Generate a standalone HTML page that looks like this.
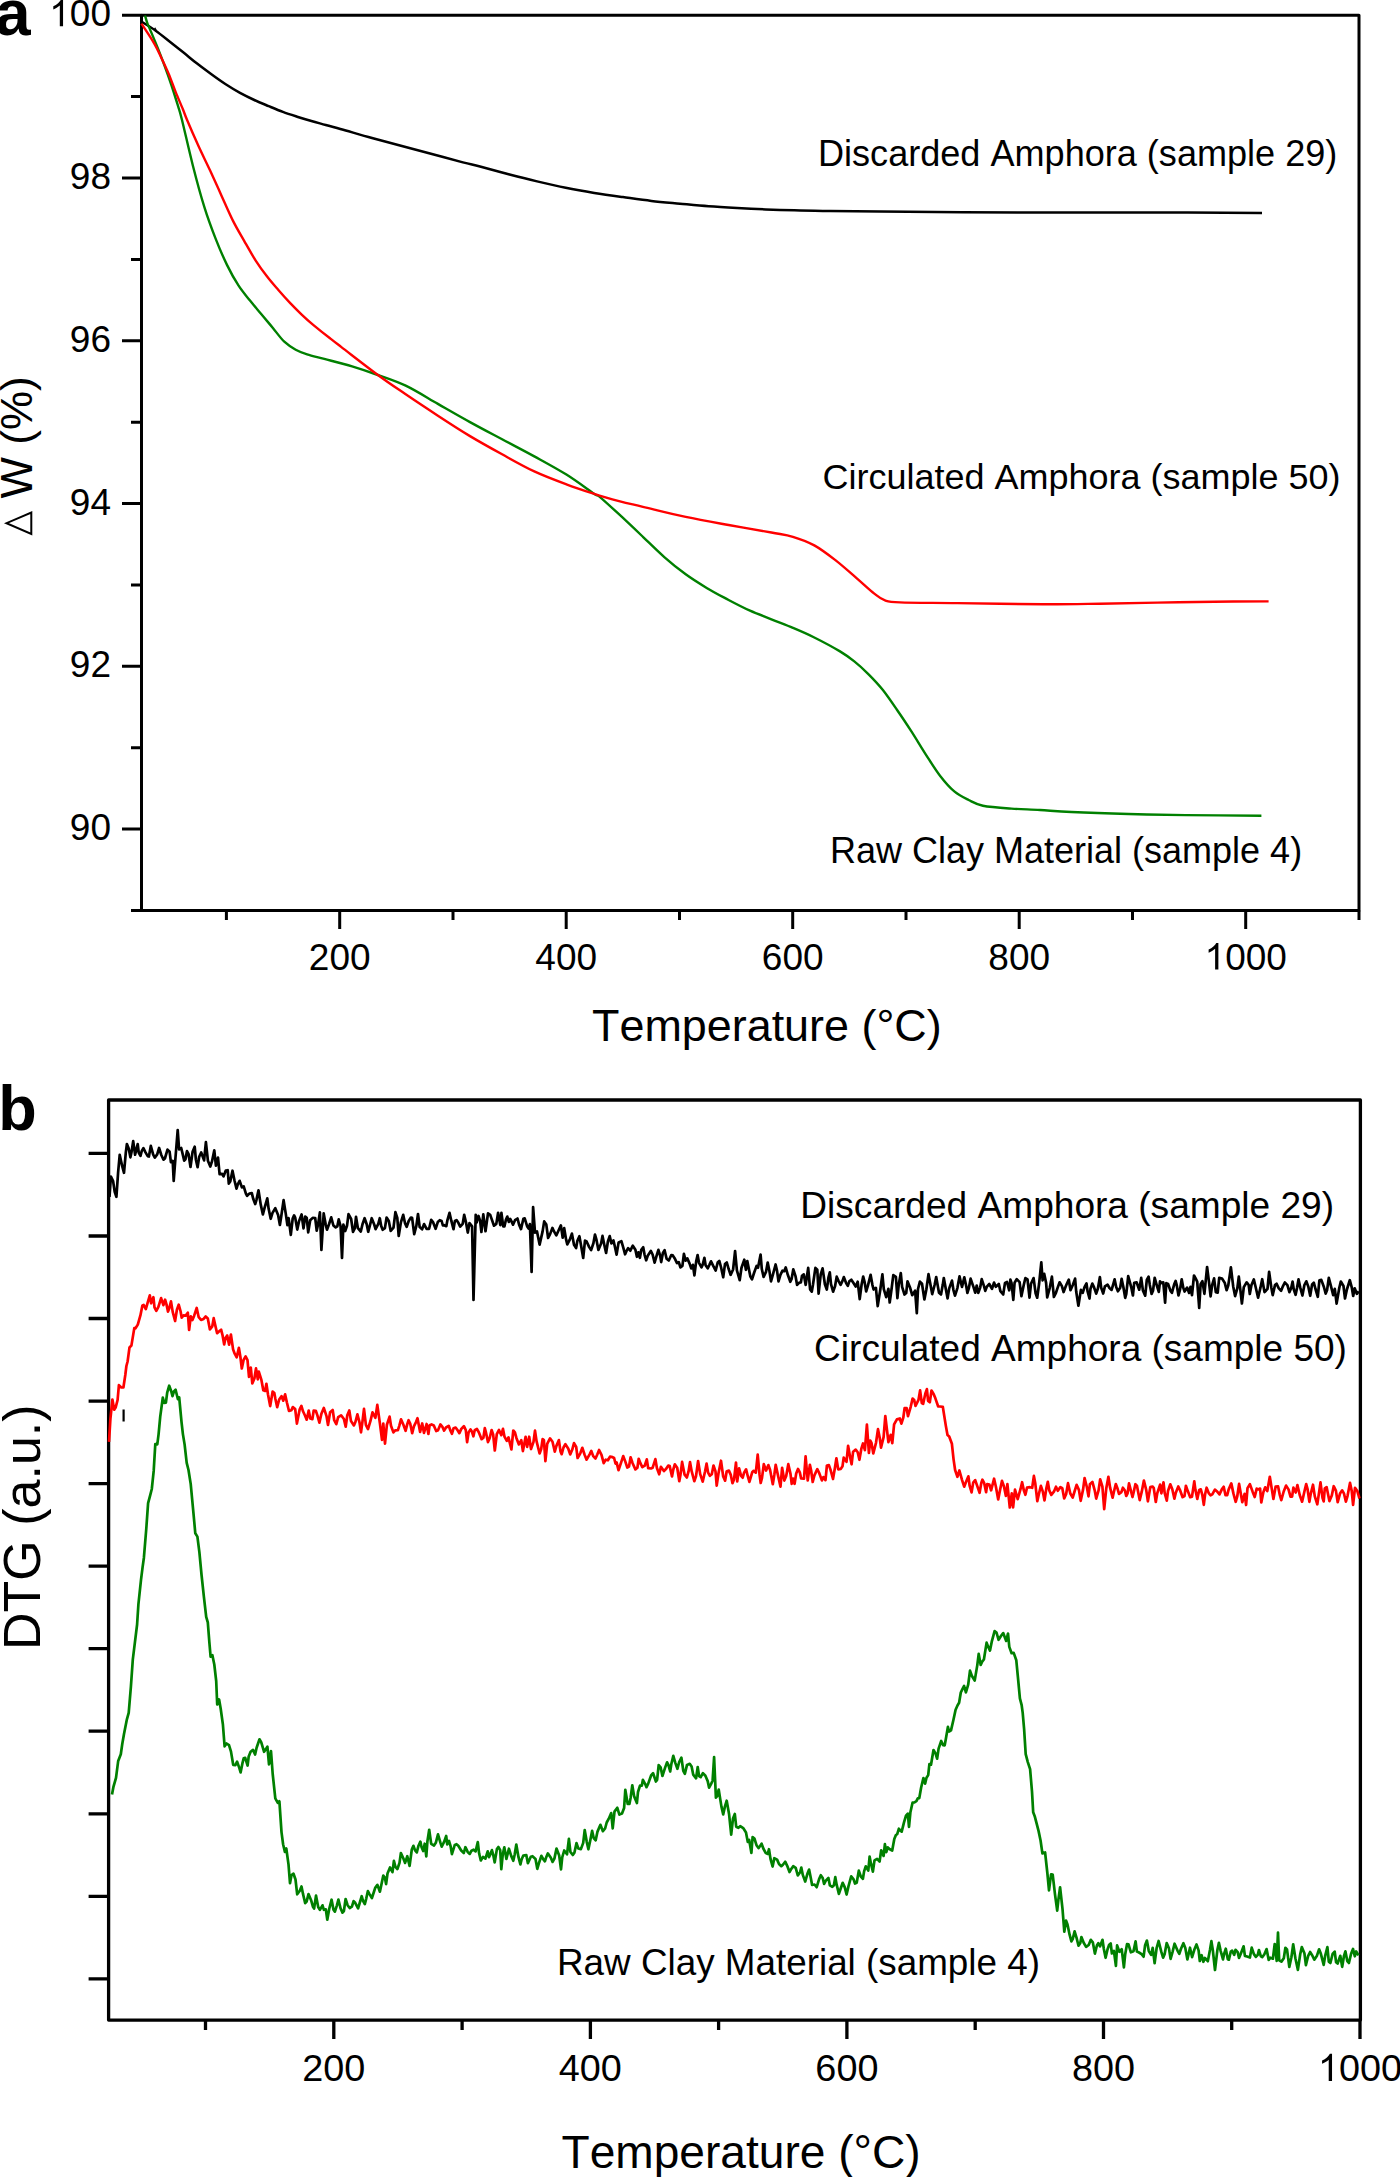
<!DOCTYPE html>
<html><head><meta charset="utf-8"><style>
html,body{margin:0;padding:0;background:#fff;width:1400px;height:2177px;overflow:hidden}
svg{display:block;position:absolute;left:0;top:0}
text{font-family:"Liberation Sans", sans-serif;fill:#000;font-kerning:none}
</style></head><body>
<svg width="1400" height="2177" viewBox="0 0 1400 2177">
<rect x="141.5" y="15.2" width="1217.5" height="895.3" fill="none" stroke="#000" stroke-width="3" stroke-linejoin="round"/>
<path d="M131.0,910.5H141.5M122.0,829.1H141.5M131.0,747.7H141.5M122.0,666.3H141.5M131.0,584.9H141.5M122.0,503.5H141.5M131.0,422.2H141.5M122.0,340.8H141.5M131.0,259.4H141.5M122.0,178.0H141.5M131.0,96.6H141.5M122.0,15.2H141.5M226.4,910.5V920.0M339.7,910.5V929.0M453.0,910.5V920.0M566.2,910.5V929.0M679.5,910.5V920.0M792.7,910.5V929.0M906.0,910.5V920.0M1019.2,910.5V929.0M1132.5,910.5V920.0M1245.7,910.5V929.0M1359.0,910.5V920.0" stroke="#000" stroke-width="3" fill="none"/>
<text x="69.84" y="840.11" font-size="37.00">90</text>
<text x="69.84" y="677.33" font-size="37.00">92</text>
<text x="69.84" y="514.55" font-size="37.00">94</text>
<text x="69.84" y="351.76" font-size="37.00">96</text>
<text x="69.84" y="188.98" font-size="37.00">98</text>
<path d="M763,0H583V1147Q518,1085,413,1023T223,930V1104Q374,1175,487,1276T647,1472H763Z" transform="translate(49.27,26.20) scale(0.01807,-0.01807)"/><text x="69.84" y="26.20" font-size="37.00">00</text>
<text x="308.83" y="969.50" font-size="37.00">200</text>
<text x="535.34" y="969.50" font-size="37.00">400</text>
<text x="761.85" y="969.50" font-size="37.00">600</text>
<text x="988.37" y="969.50" font-size="37.00">800</text>
<path d="M763,0H583V1147Q518,1085,413,1023T223,930V1104Q374,1175,487,1276T647,1472H763Z" transform="translate(1204.59,969.50) scale(0.01807,-0.01807)"/><text x="1225.17" y="969.50" font-size="37.00">000</text>
<text x="592" y="1041" font-size="44.9">Temperature (°C)</text>
<text transform="translate(32.3,498.5) rotate(-90)" font-size="44">W (%)</text>
<path d="M31.3,512.5 L31.3,534 L6.5,523.2 Z" fill="none" stroke="#000" stroke-width="2"/>
<text x="818" y="166" font-size="36.1">Discarded Amphora (sample 29)</text>
<text x="822.6" y="489.4" font-size="35.97">Circulated Amphora (sample 50)</text>
<text x="830" y="863.4" font-size="36.0">Raw Clay Material (sample 4)</text>
<text x="-5" y="35.4" font-size="64" font-weight="bold">a</text>
<path d="M142.1,22.1 C144.4,23.5 151.3,27.6 155.7,30.7 C160.1,33.8 164.1,37.1 168.6,40.7 C173.1,44.3 178.2,48.3 182.9,52.1 C187.7,55.9 192.3,59.9 197.1,63.6 C201.8,67.3 206.6,70.8 211.4,74.3 C216.2,77.8 220.9,81.2 225.7,84.3 C230.5,87.4 235.2,90.3 240.0,92.9 C244.8,95.5 249.5,97.8 254.3,100.0 C259.1,102.2 263.8,104.1 268.6,106.1 C273.4,108.1 278.1,110.1 282.9,111.9 C287.6,113.7 292.4,115.2 297.1,116.7 C301.9,118.2 306.6,119.6 311.4,121.0 C316.2,122.4 320.0,123.4 325.7,125.0 C331.4,126.6 338.0,128.3 345.7,130.5 C353.4,132.7 362.9,135.5 372.0,138.0 C381.1,140.5 390.3,142.9 400.0,145.5 C409.7,148.1 419.5,150.7 430.0,153.5 C440.5,156.3 454.6,160.2 462.9,162.4 C471.2,164.6 472.4,164.5 480.0,166.5 C487.6,168.5 499.1,171.8 508.6,174.3 C518.1,176.8 527.6,179.2 537.1,181.4 C546.6,183.6 556.2,185.8 565.7,187.7 C575.2,189.6 584.8,191.3 594.3,192.9 C603.8,194.5 613.4,195.8 622.9,197.1 C632.4,198.4 641.9,199.8 651.4,200.9 C660.9,202.0 670.5,202.8 680.0,203.7 C689.5,204.6 699.1,205.6 708.6,206.3 C718.1,207.0 727.6,207.5 737.1,208.0 C746.6,208.5 756.2,209.0 765.7,209.4 C775.2,209.8 784.8,210.1 794.3,210.3 C803.8,210.6 808.6,210.7 822.9,210.9 C837.2,211.1 846.3,211.3 880.0,211.6 C913.7,211.9 981.2,212.5 1025.0,212.6 C1068.8,212.7 1103.4,212.3 1142.9,212.4 C1182.4,212.5 1242.2,212.9 1262.0,213.0" stroke="#000" stroke-width="2.5" fill="none"/>
<path d="M153.3,29.8 L155.2,27.2 L157,30.6 Z" fill="#000"/>
<path d="M145.0,15.5 C145.4,16.8 146.6,21.2 147.4,23.5 C148.2,25.8 148.4,25.6 150.0,29.4 C151.6,33.2 154.7,40.5 157.1,46.4 C159.5,52.3 161.9,58.6 164.3,65.0 C166.7,71.4 169.0,77.8 171.4,85.0 C173.8,92.2 176.8,102.1 178.6,107.9 C180.4,113.7 179.6,110.4 182.0,120.0 C184.4,129.6 189.2,151.2 192.9,165.7 C196.6,180.2 200.5,194.7 204.3,206.9 C208.1,219.1 211.9,229.2 215.7,238.9 C219.5,248.6 223.3,257.3 227.1,265.1 C230.9,272.9 234.8,279.8 238.6,285.7 C242.4,291.6 246.2,295.8 250.0,300.6 C253.8,305.4 257.6,309.7 261.4,314.3 C265.2,318.9 269.1,323.4 272.9,328.0 C276.7,332.6 280.5,338.1 284.3,341.7 C288.1,345.3 291.9,347.6 295.7,349.7 C299.5,351.8 302.3,352.8 307.1,354.3 C311.9,355.8 316.8,356.9 324.3,358.9 C331.8,360.9 343.2,363.7 352.1,366.4 C361.0,369.1 369.0,371.8 377.9,375.0 C386.8,378.2 395.7,380.9 405.7,385.7 C415.7,390.5 427.2,397.8 437.9,403.9 C448.6,410.0 459.3,416.2 470.0,422.1 C480.7,428.0 491.4,433.6 502.1,439.3 C512.8,445.0 523.6,450.5 534.3,456.4 C545.0,462.3 556.4,468.4 566.4,474.6 C576.4,480.9 588.7,490.1 594.3,493.9 C599.9,497.6 595.5,493.4 600.0,497.1 C604.5,500.9 614.2,509.8 621.4,516.4 C628.5,523.0 635.8,530.0 642.9,536.8 C650.0,543.6 657.2,550.9 664.3,557.1 C671.4,563.4 678.6,569.1 685.7,574.3 C692.8,579.5 700.0,583.9 707.1,588.2 C714.2,592.5 721.5,596.2 728.6,600.0 C735.8,603.8 742.9,607.5 750.0,610.7 C757.1,613.9 764.2,616.4 771.4,619.3 C778.5,622.2 785.8,624.9 792.9,627.9 C800.0,630.9 806.4,633.6 814.3,637.5 C822.1,641.4 833.3,647.4 840.0,651.4 C846.7,655.4 849.5,657.6 854.3,661.4 C859.1,665.2 863.8,669.5 868.6,674.3 C873.4,679.1 878.1,684.0 882.9,690.0 C887.6,696.0 892.4,703.1 897.1,710.0 C901.9,716.9 906.6,724.0 911.4,731.4 C916.2,738.8 920.9,746.9 925.7,754.3 C930.5,761.7 935.2,769.5 940.0,775.7 C944.8,781.9 949.5,787.4 954.3,791.4 C959.1,795.4 963.8,797.6 968.6,800.0 C973.4,802.4 975.8,804.3 982.9,805.7 C990.0,807.1 1001.9,807.9 1011.4,808.6 C1020.9,809.3 1030.0,809.4 1040.0,810.0 C1050.0,810.6 1056.6,811.3 1071.4,812.0 C1086.2,812.7 1109.5,813.5 1128.6,814.0 C1147.6,814.5 1163.6,814.8 1185.7,815.1 C1207.8,815.4 1248.8,815.6 1261.4,815.7" stroke="#008000" stroke-width="2.4" fill="none"/>
<path d="M141.4,23.6 C143.6,26.9 151.0,37.9 154.3,43.6 C157.6,49.3 159.0,52.9 161.4,57.9 C163.8,62.9 166.2,67.9 168.6,73.6 C171.0,79.3 173.3,86.1 175.7,92.1 C178.1,98.0 181.0,104.6 182.9,109.3 C184.8,114.0 184.5,113.8 187.1,120.0 C189.7,126.2 194.8,137.9 198.6,146.3 C202.4,154.7 206.2,162.1 210.0,170.3 C213.8,178.5 217.6,187.0 221.4,195.4 C225.2,203.8 229.1,213.0 232.9,220.6 C236.7,228.2 240.5,234.4 244.3,241.1 C248.1,247.8 251.9,254.7 255.7,260.6 C259.5,266.5 263.3,271.7 267.1,276.6 C270.9,281.6 274.8,285.9 278.6,290.3 C282.4,294.7 286.2,298.9 290.0,302.9 C293.8,306.9 297.6,310.7 301.4,314.3 C305.2,317.9 308.1,320.6 312.9,324.6 C317.7,328.6 325.2,334.6 330.0,338.3 C334.8,342.1 333.4,341.0 341.4,347.1 C349.4,353.2 367.2,367.1 377.9,375.0 C388.6,382.9 395.7,387.5 405.7,394.3 C415.7,401.1 427.2,408.7 437.9,415.7 C448.6,422.7 459.3,429.7 470.0,436.1 C480.7,442.5 491.4,448.4 502.1,454.3 C512.8,460.2 523.6,466.4 534.3,471.4 C545.0,476.4 556.4,480.6 566.4,484.3 C576.4,488.1 585.4,491.0 594.3,493.9 C603.2,496.8 611.9,499.2 620.0,501.4 C628.1,503.5 631.9,504.2 642.9,506.8 C653.9,509.4 671.4,513.9 685.7,516.9 C700.0,519.9 714.3,522.4 728.6,525.0 C742.9,527.6 760.7,530.5 771.4,532.5 C782.1,534.5 785.8,534.6 792.9,536.8 C800.0,538.9 807.2,541.5 814.3,545.4 C821.4,549.3 828.6,554.9 835.7,560.4 C842.8,565.9 850.7,573.1 857.1,578.6 C863.5,584.1 869.6,590.0 874.3,593.6 C878.9,597.2 880.7,598.9 885.0,600.4 C889.3,601.9 888.0,601.9 900.0,602.4 C912.0,602.9 933.3,602.8 957.1,603.1 C980.9,603.4 1019.1,604.2 1042.9,604.3 C1066.7,604.4 1081.0,604.0 1100.0,603.7 C1119.0,603.4 1138.0,602.9 1157.1,602.6 C1176.1,602.3 1195.7,601.9 1214.3,601.7 C1232.9,601.5 1259.5,601.5 1268.6,601.4" stroke="#ff0000" stroke-width="2.4" fill="none"/>
<rect x="108.6" y="1100.0" width="1251.8" height="920.1" fill="none" stroke="#000" stroke-width="3.3" stroke-linejoin="round"/>
<path d="M88.6,1153.4H108.6M88.6,1236.0H108.6M88.6,1318.5H108.6M88.6,1401.1H108.6M88.6,1483.6H108.6M88.6,1566.2H108.6M88.6,1648.7H108.6M88.6,1731.2H108.6M88.6,1813.8H108.6M88.6,1896.3H108.6M88.6,1978.9H108.6M205.5,2020.1V2030.0M333.8,2020.1V2039.0M462.1,2020.1V2030.0M590.4,2020.1V2039.0M718.6,2020.1V2030.0M846.9,2020.1V2039.0M975.2,2020.1V2030.0M1103.5,2020.1V2039.0M1231.7,2020.1V2030.0M1360.0,2020.1V2039.0" stroke="#000" stroke-width="3.3" fill="none"/>
<text x="302.27" y="2081.00" font-size="37.80">200</text>
<text x="558.82" y="2081.00" font-size="37.80">400</text>
<text x="815.37" y="2081.00" font-size="37.80">600</text>
<text x="1071.92" y="2081.00" font-size="37.80">800</text>
<path d="M763,0H583V1147Q518,1085,413,1023T223,930V1104Q374,1175,487,1276T647,1472H763Z" transform="translate(1317.95,2081.00) scale(0.01846,-0.01846)"/><text x="1338.98" y="2081.00" font-size="37.80">000</text>
<text x="561.5" y="2167.5" font-size="46.1">Temperature (°C)</text>
<text transform="translate(40.3,1650) rotate(-90)" font-size="52">DTG (a.u.)</text>
<text x="800.3" y="1218" font-size="37.1">Discarded Amphora (sample 29)</text>
<text x="814.1" y="1360.5" font-size="37.03">Circulated Amphora (sample 50)</text>
<text x="557" y="1975" font-size="36.84">Raw Clay Material (sample 4)</text>
<text x="-1.8" y="1130.3" font-size="63" font-weight="bold">b</text>
<path d="M109.5,1196.9 L110.9,1176.5 L113.1,1181.1 L114.7,1191.7 L116.4,1196.8 L118.1,1172.7 L119.7,1154.8 L122.2,1166.2 L124.0,1172.8 L125.8,1152.7 L126.9,1144.0 L128.7,1148.6 L130.4,1157.3 L131.6,1151.6 L133.2,1141.1 L135.1,1154.7 L137.7,1144.0 L138.7,1152.5 L140.5,1155.8 L141.7,1151.2 L143.4,1148.2 L145.5,1152.4 L147.7,1156.1 L148.9,1156.5 L150.8,1145.9 L153.2,1154.7 L154.8,1157.6 L157.2,1154.4 L159.1,1148.0 L161.3,1155.0 L163.5,1159.7 L164.9,1158.5 L167.5,1149.6 L169.6,1151.7 L170.9,1162.2 L172.7,1160.9 L173.7,1181.0 L175.3,1160.0 L177.7,1130.0 L179.1,1149.4 L181.2,1148.0 L182.8,1154.6 L184.2,1160.7 L185.4,1159.4 L187.0,1151.1 L188.5,1153.8 L190.5,1167.0 L192.6,1151.8 L194.7,1146.7 L195.9,1159.7 L197.6,1167.2 L199.2,1156.8 L201.2,1152.5 L204.1,1160.4 L205.9,1142.1 L207.9,1160.7 L210.3,1166.5 L212.0,1161.4 L214.3,1150.3 L215.9,1165.6 L218.0,1157.6 L219.6,1174.2 L222.1,1173.9 L223.5,1176.4 L225.8,1170.6 L227.7,1170.2 L228.8,1183.6 L230.2,1181.6 L232.5,1170.7 L234.5,1180.5 L236.5,1188.6 L237.8,1184.4 L239.6,1180.8 L241.9,1187.4 L243.7,1186.3 L245.9,1193.6 L247.1,1195.9 L249.3,1193.6 L251.8,1193.2 L253.3,1199.1 L255.2,1204.1 L256.4,1200.1 L258.5,1190.3 L260.7,1204.4 L262.9,1214.5 L264.5,1208.2 L267.3,1198.3 L268.6,1208.6 L270.7,1218.8 L272.5,1212.9 L275.3,1208.2 L278.1,1214.9 L279.9,1225.0 L281.3,1216.0 L283.6,1200.1 L285.9,1214.6 L287.4,1225.1 L288.6,1218.1 L290.8,1234.9 L292.7,1218.5 L294.1,1215.4 L295.2,1217.7 L297.3,1229.6 L299.1,1220.9 L301.6,1214.5 L303.5,1228.4 L305.2,1216.5 L306.7,1217.7 L308.2,1232.4 L310.2,1220.3 L312.7,1217.9 L315.2,1218.0 L316.7,1230.7 L318.1,1224.1 L319.9,1212.4 L321.4,1250.0 L323.7,1213.4 L325.8,1225.1 L327.0,1229.7 L329.1,1224.0 L331.2,1217.3 L333.4,1225.5 L335.7,1227.4 L337.3,1226.4 L338.7,1219.4 L340.6,1226.2 L342.0,1258.0 L343.4,1224.5 L345.2,1231.0 L347.0,1225.8 L348.5,1214.1 L351.1,1218.8 L353.0,1231.8 L354.8,1228.4 L356.0,1216.8 L357.9,1228.2 L360.8,1231.5 L362.5,1224.2 L364.6,1218.2 L366.7,1224.3 L368.2,1231.8 L369.6,1226.7 L371.7,1218.2 L374.2,1224.5 L375.6,1229.2 L378.3,1223.9 L379.8,1218.2 L381.2,1225.9 L382.7,1229.8 L384.9,1228.1 L386.6,1217.5 L388.8,1220.9 L390.7,1230.9 L393.5,1227.6 L395.4,1212.1 L397.3,1218.0 L398.7,1236.0 L400.9,1222.3 L403.2,1214.8 L405.1,1223.5 L406.7,1226.8 L408.7,1221.0 L410.9,1217.6 L412.1,1217.9 L414.2,1234.1 L416.4,1225.6 L418.0,1214.0 L419.7,1227.1 L422.1,1229.3 L424.1,1224.1 L426.6,1228.9 L429.1,1228.8 L431.2,1219.9 L433.0,1222.1 L435.6,1228.8 L437.8,1222.1 L439.8,1220.2 L441.6,1221.0 L442.9,1225.5 L444.2,1225.2 L446.3,1226.2 L447.5,1219.8 L449.5,1212.9 L451.3,1220.7 L453.5,1229.2 L454.9,1220.9 L456.5,1220.1 L458.5,1223.1 L460.2,1226.6 L462.7,1223.8 L464.2,1214.8 L466.1,1222.9 L467.8,1232.6 L469.5,1223.1 L472.1,1226.4 L473.5,1300.0 L475.7,1214.8 L476.7,1222.4 L478.5,1216.0 L480.1,1220.6 L481.4,1232.0 L483.3,1214.4 L485.5,1231.2 L488.0,1213.4 L490.2,1214.9 L491.6,1218.9 L494.0,1225.7 L496.3,1223.9 L498.1,1212.8 L500.3,1225.1 L501.4,1212.8 L503.2,1226.3 L504.4,1226.5 L505.9,1219.9 L507.3,1216.6 L508.8,1221.9 L510.2,1218.9 L511.5,1221.4 L513.0,1224.7 L515.0,1220.2 L517.5,1218.5 L519.1,1224.6 L521.0,1229.1 L523.4,1218.8 L524.7,1218.4 L527.1,1226.2 L528.6,1228.6 L529.9,1224.1 L531.6,1272.0 L533.1,1207.0 L535.0,1232.6 L537.0,1231.5 L539.6,1244.6 L542.6,1231.4 L544.2,1221.4 L546.3,1224.6 L548.1,1238.0 L550.1,1234.1 L552.4,1227.9 L553.9,1231.2 L556.3,1235.4 L558.1,1231.5 L560.9,1225.4 L562.7,1237.7 L564.2,1228.2 L566.1,1239.6 L567.3,1244.4 L569.8,1239.6 L571.9,1233.6 L574.0,1244.8 L576.1,1248.0 L577.4,1240.8 L579.4,1236.2 L581.2,1246.3 L583.2,1258.0 L585.0,1240.6 L586.6,1241.5 L589.2,1247.1 L591.1,1250.1 L593.4,1243.2 L595.0,1234.6 L596.5,1239.9 L598.4,1250.0 L601.1,1243.5 L602.5,1235.9 L604.8,1247.3 L606.1,1253.0 L607.9,1241.5 L609.7,1236.1 L611.4,1243.4 L613.4,1240.4 L614.8,1246.2 L616.6,1254.6 L618.6,1242.4 L621.4,1241.2 L623.5,1248.3 L625.1,1254.3 L626.3,1251.4 L628.1,1248.2 L630.3,1250.7 L632.8,1245.7 L635.4,1249.8 L636.9,1256.8 L638.4,1252.3 L639.9,1257.8 L641.3,1249.7 L643.2,1247.2 L644.6,1254.8 L646.2,1260.3 L647.9,1255.4 L650.8,1250.9 L652.6,1254.5 L654.6,1262.6 L657.0,1254.3 L658.4,1249.8 L660.2,1255.8 L661.2,1262.1 L662.9,1253.0 L664.6,1250.2 L666.6,1258.7 L668.8,1260.5 L671.3,1255.0 L672.8,1255.4 L674.6,1258.2 L677.0,1263.1 L678.8,1262.1 L680.4,1267.4 L682.4,1265.9 L683.9,1253.9 L685.6,1260.6 L687.3,1258.4 L689.5,1263.4 L691.2,1268.4 L692.9,1264.8 L694.4,1275.3 L696.2,1261.3 L697.6,1255.0 L699.0,1262.8 L701.5,1267.3 L702.6,1265.0 L704.4,1257.8 L705.6,1265.3 L707.7,1268.3 L709.5,1264.6 L711.0,1261.3 L713.1,1265.6 L715.7,1270.5 L717.7,1262.5 L719.3,1260.9 L721.1,1267.5 L723.2,1277.3 L725.0,1264.1 L726.8,1262.5 L728.6,1268.8 L730.6,1274.8 L733.1,1269.5 L735.1,1251.0 L736.9,1270.4 L739.7,1280.2 L741.5,1267.8 L744.3,1259.7 L745.9,1269.9 L747.3,1261.0 L750.3,1276.3 L752.0,1279.4 L754.2,1272.5 L756.6,1265.9 L758.0,1267.7 L760.6,1254.5 L761.8,1269.0 L763.6,1276.9 L766.0,1271.9 L767.7,1262.6 L769.4,1270.9 L771.0,1281.4 L773.1,1273.8 L775.6,1264.5 L777.0,1270.6 L778.5,1281.3 L780.5,1274.7 L782.5,1270.7 L784.2,1271.2 L785.7,1267.4 L787.8,1274.8 L790.3,1281.8 L791.6,1278.9 L793.3,1269.3 L795.5,1276.1 L797.1,1284.9 L799.1,1282.8 L800.9,1282.4 L802.0,1275.8 L803.8,1274.4 L805.7,1284.9 L808.2,1267.9 L810.1,1289.4 L811.8,1291.6 L813.0,1284.5 L815.4,1267.9 L817.3,1269.8 L818.6,1293.7 L820.7,1274.5 L822.6,1268.4 L824.9,1284.2 L826.8,1289.6 L828.5,1277.3 L829.8,1272.3 L831.0,1284.2 L833.1,1291.7 L835.0,1286.4 L836.7,1276.7 L838.6,1281.1 L840.6,1284.8 L842.5,1280.9 L843.8,1277.1 L846.1,1283.1 L847.8,1285.9 L849.3,1281.3 L851.3,1279.7 L853.5,1283.1 L855.7,1286.6 L857.7,1281.7 L859.7,1299.1 L861.6,1284.5 L863.2,1276.5 L864.5,1281.6 L866.2,1291.4 L868.0,1285.4 L870.6,1274.8 L872.4,1284.8 L873.6,1289.5 L875.9,1287.9 L877.7,1306.1 L880.2,1290.2 L882.4,1274.4 L883.8,1289.2 L886.2,1297.1 L888.4,1288.9 L889.7,1302.5 L891.5,1289.5 L893.3,1275.2 L895.9,1276.9 L897.4,1298.2 L898.7,1284.9 L900.8,1273.1 L902.1,1286.9 L904.5,1294.5 L906.2,1293.0 L907.5,1281.3 L910.0,1287.4 L912.2,1295.2 L915.1,1290.7 L916.8,1313.1 L918.0,1289.0 L919.9,1281.6 L922.0,1283.8 L924.4,1299.5 L926.3,1289.8 L928.5,1274.2 L930.3,1283.7 L932.2,1294.1 L934.6,1285.0 L936.2,1277.0 L939.0,1292.8 L941.0,1294.5 L942.8,1284.6 L943.8,1278.0 L945.9,1289.5 L947.6,1298.4 L949.2,1288.4 L952.0,1280.6 L953.4,1289.8 L955.0,1295.7 L957.4,1288.1 L959.5,1276.4 L962.0,1287.0 L964.3,1277.4 L966.3,1286.5 L967.4,1292.9 L968.8,1288.4 L970.6,1278.7 L973.6,1287.4 L975.2,1292.7 L976.7,1285.5 L978.3,1292.9 L980.2,1287.6 L981.7,1279.2 L984.0,1286.2 L985.3,1290.9 L986.9,1286.6 L989.3,1284.0 L992.0,1288.8 L994.0,1282.6 L995.8,1286.8 L998.8,1284.0 L1000.4,1291.1 L1003.2,1294.5 L1005.0,1282.9 L1007.0,1282.0 L1009.2,1290.3 L1010.4,1279.6 L1011.5,1282.9 L1013.3,1299.8 L1014.6,1282.7 L1016.7,1279.1 L1019.6,1282.1 L1021.4,1296.1 L1023.8,1284.8 L1025.4,1278.0 L1027.5,1279.4 L1029.5,1297.6 L1031.0,1283.8 L1033.6,1278.1 L1035.6,1293.2 L1037.2,1297.7 L1039.1,1283.8 L1041.3,1262.3 L1042.6,1280.3 L1044.2,1273.8 L1046.1,1282.9 L1047.2,1297.3 L1049.7,1288.1 L1051.9,1276.7 L1053.9,1297.0 L1055.7,1293.5 L1057.6,1287.9 L1059.6,1282.3 L1061.8,1285.9 L1063.6,1292.0 L1065.6,1286.7 L1066.7,1284.0 L1068.8,1279.7 L1070.5,1290.2 L1072.8,1285.0 L1075.1,1278.6 L1076.2,1291.5 L1078.4,1305.7 L1080.9,1289.9 L1082.7,1292.9 L1084.6,1286.8 L1086.5,1283.5 L1087.6,1291.5 L1089.5,1298.5 L1090.5,1288.7 L1092.3,1283.6 L1094.0,1287.2 L1096.2,1293.6 L1097.9,1288.5 L1099.9,1277.1 L1101.2,1287.8 L1103.2,1293.5 L1104.9,1286.4 L1107.6,1284.7 L1109.5,1288.0 L1111.6,1289.9 L1113.5,1283.3 L1114.6,1279.3 L1116.2,1287.0 L1117.9,1291.3 L1120.2,1287.8 L1121.6,1278.9 L1123.4,1287.2 L1125.2,1297.9 L1126.3,1293.8 L1128.2,1276.1 L1131.2,1287.1 L1132.9,1295.5 L1134.2,1282.9 L1136.6,1282.3 L1139.2,1289.7 L1141.2,1277.9 L1142.9,1290.4 L1145.2,1295.7 L1146.8,1280.0 L1148.6,1276.6 L1149.8,1284.9 L1151.6,1293.9 L1153.0,1290.7 L1154.7,1277.8 L1157.0,1286.1 L1158.8,1291.9 L1160.0,1281.3 L1161.7,1283.2 L1163.3,1282.3 L1165.1,1302.6 L1166.3,1283.2 L1168.1,1284.0 L1170.5,1290.9 L1171.9,1292.8 L1174.2,1284.3 L1175.6,1280.9 L1176.8,1285.4 L1178.5,1295.4 L1180.0,1289.7 L1181.7,1279.3 L1183.3,1287.9 L1184.6,1291.5 L1187.1,1287.6 L1189.1,1292.9 L1190.5,1286.9 L1192.0,1295.2 L1194.0,1275.5 L1195.5,1278.1 L1197.2,1281.7 L1199.2,1307.8 L1200.6,1284.1 L1202.4,1281.1 L1204.4,1293.9 L1207.1,1267.0 L1209.0,1282.1 L1210.6,1296.4 L1212.2,1284.8 L1214.1,1278.4 L1215.8,1292.2 L1217.7,1292.7 L1219.2,1277.8 L1222.0,1278.6 L1224.7,1282.7 L1226.6,1290.2 L1228.3,1285.2 L1230.9,1267.3 L1233.2,1286.4 L1235.1,1296.1 L1237.3,1288.3 L1238.8,1276.7 L1240.3,1289.3 L1241.9,1303.5 L1243.8,1287.1 L1246.7,1282.3 L1248.7,1285.0 L1249.8,1294.0 L1251.4,1285.2 L1253.8,1279.4 L1255.7,1287.2 L1258.1,1297.7 L1260.5,1287.4 L1262.2,1279.2 L1264.5,1292.1 L1265.9,1290.7 L1267.5,1288.9 L1269.1,1271.8 L1271.3,1287.5 L1272.7,1295.1 L1275.0,1285.1 L1276.6,1283.7 L1278.8,1288.4 L1281.1,1290.7 L1283.0,1286.1 L1284.8,1282.5 L1287.4,1285.1 L1289.4,1292.1 L1291.3,1287.6 L1292.6,1281.6 L1293.8,1289.6 L1295.6,1294.8 L1297.0,1288.1 L1298.5,1279.4 L1300.2,1287.4 L1302.4,1295.5 L1304.4,1285.0 L1306.3,1281.3 L1308.4,1286.9 L1310.2,1295.8 L1312.1,1284.4 L1313.8,1282.7 L1315.5,1289.0 L1317.8,1296.8 L1319.4,1280.3 L1321.3,1279.9 L1323.9,1287.0 L1325.7,1293.6 L1327.1,1289.9 L1328.8,1277.9 L1331.4,1287.9 L1333.2,1295.2 L1334.8,1288.9 L1336.6,1303.6 L1339.3,1287.8 L1340.8,1281.5 L1343.5,1286.0 L1345.0,1298.5 L1346.9,1289.5 L1349.8,1280.2 L1351.8,1287.6 L1353.2,1296.0 L1354.7,1288.3 L1356.8,1293.8 L1358.8,1291.3" stroke="#000" stroke-width="2.7" fill="none" stroke-linejoin="round"/>
<path d="M109.0,1441.9 L110.4,1418.8 L112.4,1399.5 L114.2,1409.7 L115.6,1407.6 L117.6,1400.0 L118.9,1385.2 L121.0,1387.3 L123.4,1387.5 L125.3,1375.0 L126.4,1366.0 L127.6,1361.5 L129.5,1347.4 L131.4,1345.6 L134.3,1328.1 L135.5,1328.3 L137.8,1324.6 L140.4,1315.4 L142.4,1305.5 L143.7,1305.0 L145.8,1309.1 L147.6,1302.8 L149.8,1295.3 L151.1,1303.3 L153.4,1297.2 L154.5,1307.3 L156.3,1310.9 L158.3,1307.2 L161.1,1298.1 L163.4,1305.2 L165.1,1299.7 L166.5,1304.4 L168.0,1311.6 L169.2,1308.5 L171.0,1301.4 L172.7,1311.9 L175.1,1321.0 L176.9,1309.7 L178.7,1304.7 L180.5,1311.0 L181.7,1317.7 L183.5,1315.4 L185.7,1315.6 L187.8,1312.7 L189.1,1330.0 L190.8,1316.3 L192.4,1320.1 L194.1,1315.9 L196.7,1308.0 L198.7,1317.2 L201.0,1319.9 L203.6,1318.9 L205.7,1316.5 L207.8,1318.4 L209.9,1329.4 L212.3,1326.3 L213.7,1318.2 L215.1,1324.6 L217.1,1333.2 L219.5,1331.0 L221.1,1329.7 L222.5,1335.1 L224.2,1344.4 L225.5,1338.0 L227.2,1335.5 L229.1,1344.7 L230.9,1334.5 L233.1,1349.4 L234.7,1353.7 L236.7,1357.3 L238.9,1347.9 L240.4,1357.0 L241.8,1368.5 L243.6,1359.9 L245.6,1356.4 L247.5,1360.1 L249.0,1376.8 L250.8,1367.6 L252.3,1383.4 L254.4,1378.5 L256.0,1368.4 L257.8,1379.4 L258.8,1371.6 L261.4,1379.9 L263.3,1390.2 L265.1,1390.9 L266.4,1383.8 L268.0,1394.5 L270.2,1406.1 L272.6,1391.6 L274.3,1393.1 L275.4,1399.0 L277.2,1407.1 L279.2,1399.5 L281.5,1396.2 L283.3,1400.7 L285.1,1394.4 L286.9,1402.5 L289.0,1411.0 L291.4,1410.3 L292.8,1407.1 L295.2,1409.1 L296.9,1423.6 L299.6,1409.7 L301.4,1405.9 L303.0,1411.3 L305.1,1415.8 L306.7,1419.7 L308.7,1410.6 L310.3,1418.4 L312.4,1419.1 L313.7,1410.5 L315.8,1410.8 L317.4,1415.4 L319.4,1422.6 L321.4,1413.7 L323.8,1407.9 L326.5,1416.1 L328.0,1425.0 L330.1,1412.2 L332.7,1410.0 L334.2,1420.2 L336.3,1424.2 L338.2,1417.2 L341.1,1415.3 L343.9,1419.0 L345.7,1426.7 L347.3,1415.3 L349.3,1410.4 L351.0,1421.1 L353.9,1425.4 L355.4,1422.0 L357.4,1414.4 L359.5,1422.4 L361.0,1432.3 L362.5,1421.4 L364.0,1408.9 L365.9,1424.9 L368.0,1429.1 L370.4,1421.2 L372.5,1412.4 L375.4,1417.9 L377.3,1404.9 L379.9,1423.4 L382.0,1439.8 L383.3,1423.6 L385.0,1443.6 L386.9,1424.7 L389.6,1416.6 L391.0,1425.7 L393.4,1432.4 L395.2,1430.3 L397.9,1430.1 L399.2,1426.1 L401.0,1419.3 L403.6,1425.3 L405.6,1430.8 L407.4,1423.7 L408.6,1420.2 L410.3,1423.9 L412.2,1433.2 L413.9,1426.4 L416.0,1422.1 L417.5,1418.2 L420.1,1431.9 L422.2,1423.5 L424.0,1433.0 L426.6,1424.0 L428.4,1434.0 L429.6,1425.3 L431.6,1424.4 L433.8,1425.4 L436.2,1431.1 L438.0,1430.2 L440.4,1424.4 L442.4,1426.8 L444.1,1430.6 L446.0,1427.5 L448.7,1425.8 L450.6,1431.0 L451.9,1433.8 L453.6,1428.2 L455.6,1427.5 L457.6,1430.3 L459.4,1433.2 L461.3,1428.9 L463.9,1426.2 L465.8,1430.2 L467.1,1442.2 L468.6,1432.4 L470.5,1429.4 L472.0,1431.8 L473.4,1436.3 L474.7,1430.2 L476.9,1429.0 L478.8,1432.2 L481.6,1439.2 L483.4,1437.7 L484.8,1428.2 L486.0,1432.7 L488.0,1442.1 L489.7,1438.0 L491.6,1430.0 L493.2,1434.8 L494.8,1450.5 L496.8,1434.1 L499.0,1430.0 L501.3,1435.2 L503.0,1428.9 L504.5,1436.7 L506.8,1440.8 L508.5,1437.4 L511.4,1449.5 L513.3,1430.5 L514.9,1432.3 L516.4,1437.9 L518.9,1444.4 L521.3,1440.2 L522.9,1451.1 L525.6,1436.8 L527.1,1446.9 L529.2,1436.7 L531.0,1449.1 L533.5,1441.9 L535.0,1430.7 L536.6,1441.4 L539.6,1453.5 L541.2,1449.0 L542.6,1439.1 L543.9,1440.1 L545.4,1461.2 L547.2,1443.8 L550.0,1438.4 L552.5,1441.7 L554.8,1451.6 L556.4,1445.9 L558.9,1440.1 L560.5,1451.4 L561.7,1454.2 L563.5,1447.5 L565.4,1444.1 L568.3,1448.7 L570.2,1454.4 L572.2,1449.8 L574.0,1443.1 L576.2,1447.0 L577.6,1458.0 L580.3,1453.3 L582.3,1447.8 L584.6,1454.7 L586.6,1459.7 L589.6,1454.3 L591.3,1450.9 L593.2,1456.1 L595.5,1458.5 L597.3,1454.5 L599.1,1450.0 L601.5,1454.8 L603.7,1463.1 L605.7,1459.7 L607.9,1460.3 L610.0,1456.7 L612.6,1457.2 L614.1,1458.0 L615.5,1463.5 L616.6,1462.4 L618.5,1470.2 L621.4,1461.6 L623.2,1456.1 L624.9,1460.4 L627.3,1467.5 L629.0,1466.6 L630.6,1457.3 L632.6,1463.2 L635.4,1469.4 L637.4,1467.8 L638.7,1458.8 L640.4,1463.2 L642.3,1467.2 L644.7,1465.7 L646.8,1459.4 L648.2,1468.2 L651.0,1468.5 L652.6,1467.8 L655.4,1459.1 L656.9,1468.0 L659.2,1474.3 L660.9,1466.8 L663.9,1471.1 L666.2,1468.7 L668.3,1465.6 L669.7,1466.1 L672.0,1476.5 L673.3,1469.5 L674.8,1464.4 L677.2,1467.7 L679.3,1481.2 L680.4,1475.3 L682.1,1461.9 L684.6,1474.7 L686.8,1477.5 L688.5,1471.7 L690.0,1462.1 L691.7,1471.4 L694.3,1481.2 L696.0,1476.4 L698.1,1461.0 L700.2,1474.1 L702.7,1481.7 L705.1,1471.3 L706.6,1463.6 L708.1,1472.6 L709.9,1475.8 L711.8,1474.3 L713.5,1465.5 L715.5,1471.4 L716.7,1485.6 L718.5,1473.2 L721.0,1460.7 L723.2,1476.5 L725.1,1480.7 L726.7,1471.2 L728.9,1470.6 L730.8,1474.9 L732.5,1483.2 L734.0,1479.6 L736.0,1462.5 L737.2,1481.5 L739.1,1468.4 L741.1,1475.8 L742.7,1477.7 L744.1,1472.6 L746.1,1469.3 L747.8,1476.2 L749.4,1481.9 L752.2,1472.3 L753.7,1470.8 L755.8,1472.6 L757.7,1454.7 L759.5,1474.2 L760.7,1483.0 L762.0,1477.9 L763.8,1464.2 L766.1,1470.5 L768.4,1465.1 L770.1,1470.0 L772.8,1484.2 L774.3,1475.0 L775.7,1464.8 L778.4,1477.3 L780.5,1486.6 L782.1,1467.8 L784.3,1480.6 L786.2,1475.9 L788.3,1464.2 L790.5,1473.9 L791.7,1483.8 L793.0,1478.5 L794.6,1483.8 L796.2,1473.5 L798.0,1468.9 L799.8,1472.3 L801.1,1478.4 L804.0,1478.7 L805.6,1456.3 L807.7,1480.5 L809.9,1464.8 L811.1,1470.2 L812.7,1482.0 L814.4,1475.3 L817.3,1469.2 L819.0,1472.5 L821.9,1480.4 L823.4,1477.1 L825.5,1480.2 L826.9,1465.5 L828.9,1465.1 L830.5,1469.6 L833.0,1479.0 L834.9,1468.0 L836.4,1458.3 L838.2,1469.3 L840.8,1468.9 L842.5,1466.2 L843.7,1457.6 L846.5,1461.8 L848.1,1445.8 L850.3,1457.9 L851.6,1464.3 L853.1,1451.7 L855.7,1449.6 L857.7,1452.2 L859.4,1459.8 L861.3,1448.9 L863.0,1443.5 L864.9,1450.2 L866.9,1424.6 L868.9,1453.0 L870.3,1440.7 L871.5,1442.9 L873.3,1453.4 L876.0,1442.8 L878.0,1429.2 L879.7,1437.8 L881.0,1447.6 L883.6,1437.1 L885.3,1416.0 L887.0,1430.2 L888.4,1442.1 L890.7,1434.8 L892.3,1443.2 L894.1,1424.3 L896.9,1419.3 L899.8,1418.5 L901.4,1423.7 L903.3,1417.6 L904.6,1408.2 L906.6,1408.0 L908.0,1416.2 L910.7,1406.8 L912.6,1398.6 L914.2,1400.0 L915.5,1406.0 L918.5,1399.9 L920.1,1390.4 L921.8,1403.0 L923.2,1403.8 L925.3,1393.8 L926.9,1389.1 L928.1,1400.9 L929.8,1402.2 L931.5,1390.5 L933.6,1393.9 L935.3,1398.1 L938.1,1406.3 L940.0,1406.5 L942.8,1406.8 L945.8,1425.6 L947.5,1435.0 L949.2,1436.5 L951.9,1443.8 L953.6,1459.6 L955.1,1470.0 L957.4,1476.8 L959.4,1470.5 L962.0,1479.8 L964.2,1486.7 L965.7,1482.7 L968.4,1476.3 L969.6,1485.5 L971.6,1492.4 L973.2,1482.6 L975.2,1480.1 L977.2,1485.9 L979.6,1492.8 L981.3,1483.0 L982.4,1479.7 L984.2,1483.2 L986.1,1492.2 L987.2,1484.2 L989.4,1484.6 L991.1,1490.3 L994.1,1478.7 L995.9,1486.8 L998.2,1499.4 L1000.2,1489.2 L1002.0,1480.9 L1003.9,1486.2 L1005.9,1495.9 L1007.4,1484.1 L1009.8,1507.5 L1011.8,1493.3 L1013.1,1507.3 L1015.0,1489.7 L1017.7,1499.1 L1020.5,1489.2 L1022.1,1482.2 L1023.9,1490.6 L1025.4,1494.8 L1027.0,1487.7 L1029.9,1487.2 L1032.2,1487.8 L1033.9,1475.9 L1035.3,1483.6 L1037.3,1501.2 L1039.0,1493.5 L1040.9,1485.9 L1042.9,1491.9 L1044.5,1500.4 L1046.5,1487.5 L1047.8,1481.8 L1049.3,1490.4 L1051.3,1494.9 L1053.9,1491.7 L1056.0,1486.7 L1057.8,1490.8 L1060.4,1487.1 L1062.3,1488.2 L1064.2,1498.5 L1066.1,1494.3 L1068.0,1483.2 L1070.3,1493.5 L1072.7,1497.5 L1074.7,1491.0 L1076.6,1484.8 L1078.9,1489.9 L1080.7,1500.8 L1083.1,1489.4 L1084.6,1478.0 L1086.9,1487.3 L1088.5,1496.3 L1089.9,1484.3 L1092.4,1481.9 L1094.7,1490.3 L1096.2,1498.6 L1098.5,1490.7 L1100.2,1479.3 L1102.4,1486.6 L1104.2,1509.1 L1106.3,1488.2 L1108.4,1476.8 L1110.1,1487.7 L1112.6,1497.7 L1113.8,1492.3 L1115.8,1484.0 L1117.6,1488.8 L1119.0,1493.9 L1121.4,1492.1 L1122.9,1487.7 L1124.9,1490.5 L1126.2,1496.0 L1127.6,1493.4 L1129.0,1483.4 L1131.2,1491.8 L1132.5,1497.0 L1133.8,1491.6 L1135.4,1484.2 L1137.0,1486.0 L1139.7,1500.1 L1141.7,1491.9 L1143.9,1480.6 L1146.2,1489.9 L1147.9,1501.4 L1150.3,1487.1 L1152.5,1486.5 L1153.7,1487.8 L1155.8,1502.0 L1157.3,1493.1 L1160.1,1484.6 L1161.4,1493.3 L1163.5,1482.3 L1164.7,1493.1 L1166.8,1500.7 L1168.0,1491.0 L1170.3,1484.3 L1172.3,1489.3 L1174.4,1498.7 L1175.8,1492.8 L1178.3,1486.5 L1179.9,1489.8 L1182.6,1497.2 L1184.5,1496.1 L1185.9,1485.8 L1187.8,1491.1 L1190.2,1497.2 L1192.0,1496.6 L1194.3,1481.3 L1195.4,1489.8 L1197.3,1498.9 L1199.2,1490.0 L1200.8,1489.3 L1202.3,1494.9 L1203.8,1504.9 L1205.1,1494.3 L1206.6,1487.7 L1208.9,1493.4 L1210.6,1495.3 L1212.3,1494.4 L1214.9,1489.6 L1216.8,1491.2 L1219.5,1494.4 L1221.8,1489.4 L1223.7,1486.8 L1225.5,1495.2 L1227.2,1495.2 L1228.6,1489.6 L1231.3,1483.4 L1233.4,1493.4 L1235.7,1501.8 L1237.2,1496.7 L1239.1,1483.9 L1240.9,1494.3 L1242.3,1502.2 L1244.6,1493.8 L1246.1,1505.0 L1247.5,1488.1 L1249.9,1484.2 L1252.7,1491.9 L1254.7,1497.0 L1256.7,1488.6 L1258.1,1489.4 L1260.1,1488.6 L1261.3,1502.5 L1263.3,1492.4 L1265.2,1487.3 L1267.3,1491.0 L1269.8,1476.8 L1271.9,1489.6 L1273.4,1499.0 L1275.6,1486.7 L1278.1,1486.4 L1279.7,1494.6 L1281.3,1500.1 L1283.7,1491.5 L1286.1,1485.6 L1288.5,1489.4 L1290.5,1496.7 L1292.1,1496.6 L1293.4,1487.7 L1295.7,1492.5 L1297.4,1485.0 L1299.8,1495.3 L1302.1,1501.7 L1304.7,1490.2 L1306.2,1484.0 L1307.5,1488.8 L1309.4,1501.9 L1310.7,1494.1 L1313.0,1484.7 L1314.8,1496.4 L1317.3,1504.3 L1319.3,1490.9 L1320.5,1482.4 L1322.5,1497.8 L1323.7,1501.4 L1324.8,1488.3 L1326.6,1487.1 L1327.6,1492.0 L1329.4,1501.1 L1331.8,1495.5 L1333.7,1486.2 L1335.9,1490.6 L1337.7,1502.2 L1340.0,1493.6 L1342.2,1490.3 L1343.9,1493.3 L1345.9,1501.6 L1347.5,1496.1 L1350.0,1482.9 L1351.7,1490.9 L1353.1,1504.8 L1355.0,1487.8 L1357.2,1490.7 L1359.5,1498.5" stroke="#ff0000" stroke-width="2.7" fill="none" stroke-linejoin="round"/>
<path d="M112.0,1794.6 L113.5,1786.6 L116.0,1777.9 L118.2,1760.9 L120.8,1754.3 L122.3,1743.7 L124.0,1734.1 L126.9,1719.3 L128.7,1712.8 L130.9,1686.7 L132.8,1659.6 L134.6,1644.8 L137.1,1624.5 L138.4,1604.4 L141.0,1579.9 L142.5,1567.9 L143.9,1557.7 L146.3,1528.5 L148.1,1503.1 L150.1,1495.6 L151.8,1489.0 L153.7,1470.9 L155.3,1444.1 L157.3,1444.4 L158.6,1434.1 L160.2,1416.9 L162.8,1397.6 L164.2,1402.9 L165.9,1402.6 L167.2,1392.6 L169.2,1385.7 L171.2,1391.2 L172.5,1396.1 L173.9,1391.5 L175.6,1389.8 L177.9,1399.2 L179.2,1397.3 L181.5,1421.9 L182.9,1434.1 L184.6,1444.4 L186.7,1462.9 L188.5,1470.0 L190.7,1483.9 L193.5,1513.6 L195.3,1533.3 L197.4,1536.6 L199.4,1552.4 L201.6,1575.5 L203.9,1596.8 L206.2,1616.8 L207.8,1622.4 L209.3,1641.7 L210.6,1656.7 L212.4,1655.2 L214.3,1664.5 L216.2,1681.0 L217.2,1704.5 L219.1,1699.5 L220.7,1708.7 L222.9,1724.5 L224.6,1746.3 L226.6,1743.5 L229.0,1745.1 L231.0,1751.6 L233.2,1764.8 L235.4,1765.2 L237.1,1761.7 L239.3,1767.9 L240.6,1772.4 L242.4,1763.4 L243.7,1758.3 L245.2,1757.8 L247.6,1765.5 L248.7,1756.4 L250.6,1751.8 L253.0,1749.9 L255.1,1754.5 L256.6,1747.7 L259.5,1739.3 L261.2,1742.1 L264.1,1751.8 L265.5,1749.8 L267.4,1746.6 L269.0,1764.4 L271.0,1751.0 L272.7,1774.0 L275.3,1798.3 L277.8,1802.8 L279.4,1801.3 L281.5,1832.1 L283.1,1844.3 L284.9,1852.0 L286.3,1848.5 L288.5,1864.4 L290.0,1883.2 L291.5,1875.1 L293.5,1873.7 L295.5,1879.5 L297.2,1894.3 L299.8,1890.8 L301.5,1886.5 L303.0,1893.9 L305.2,1903.2 L306.6,1901.7 L308.5,1894.1 L311.3,1900.8 L313.0,1906.8 L314.1,1908.6 L316.0,1895.6 L318.2,1907.0 L319.9,1909.9 L322.5,1905.3 L323.9,1909.8 L325.8,1909.4 L327.3,1919.7 L329.2,1909.0 L331.6,1899.7 L333.5,1909.7 L334.9,1911.7 L336.9,1905.3 L338.4,1899.6 L340.6,1908.5 L342.5,1912.6 L343.9,1911.0 L345.6,1899.0 L347.6,1905.2 L349.7,1908.0 L351.9,1906.7 L353.6,1901.1 L355.2,1902.8 L358.1,1908.4 L360.0,1902.0 L361.7,1896.2 L363.0,1900.8 L364.8,1904.1 L366.3,1898.3 L367.9,1891.0 L369.5,1894.1 L371.9,1898.0 L373.8,1892.3 L375.2,1887.9 L377.4,1884.9 L379.9,1891.7 L382.0,1881.7 L383.3,1875.6 L384.9,1877.7 L386.1,1884.1 L387.5,1873.6 L390.0,1867.5 L392.5,1872.2 L393.9,1860.8 L395.4,1866.8 L397.4,1869.0 L399.5,1862.9 L400.9,1853.0 L403.3,1858.2 L405.1,1862.9 L407.3,1856.2 L409.6,1865.9 L411.8,1849.5 L413.4,1845.8 L415.1,1850.4 L416.8,1852.4 L418.5,1845.7 L420.4,1841.6 L421.5,1846.9 L423.2,1851.0 L424.7,1843.7 L426.3,1856.4 L427.4,1841.5 L429.2,1829.8 L431.2,1843.9 L434.0,1845.5 L435.8,1842.8 L438.0,1834.3 L440.4,1842.7 L441.7,1846.7 L444.1,1841.9 L446.2,1835.9 L447.2,1844.4 L449.0,1841.0 L450.6,1846.1 L451.9,1854.1 L454.8,1844.9 L456.5,1844.2 L458.3,1845.8 L461.2,1850.5 L463.8,1853.0 L465.4,1847.2 L467.7,1851.9 L469.8,1853.9 L471.5,1850.7 L473.6,1849.7 L475.6,1851.4 L477.8,1842.1 L479.1,1853.3 L480.8,1860.5 L483.0,1856.9 L485.4,1858.6 L487.7,1851.3 L489.0,1857.1 L490.6,1853.8 L491.9,1850.1 L493.1,1854.3 L494.7,1862.4 L496.9,1849.1 L498.4,1847.0 L500.2,1850.1 L501.3,1869.1 L502.8,1854.2 L504.3,1847.3 L506.4,1858.9 L508.9,1848.7 L511.2,1855.9 L513.3,1860.8 L514.7,1854.5 L516.3,1844.5 L518.5,1857.2 L520.4,1864.4 L521.6,1859.5 L523.3,1855.5 L526.3,1855.1 L527.9,1863.2 L530.8,1856.7 L532.5,1856.2 L535.5,1858.9 L537.3,1868.8 L538.8,1863.6 L541.4,1855.8 L543.4,1859.5 L544.9,1861.3 L546.0,1857.8 L547.8,1853.4 L550.7,1857.5 L552.6,1861.9 L554.4,1858.6 L556.5,1848.6 L559.2,1855.6 L561.0,1869.4 L562.2,1857.5 L564.2,1850.5 L567.0,1854.3 L568.9,1838.9 L570.4,1851.9 L572.8,1855.0 L574.4,1852.7 L576.5,1843.1 L578.3,1848.5 L580.9,1849.1 L583.2,1842.9 L584.7,1830.1 L586.7,1841.6 L588.4,1849.3 L590.3,1840.3 L592.1,1830.9 L593.7,1838.0 L595.7,1840.3 L597.5,1831.6 L600.4,1824.8 L602.9,1831.2 L605.1,1828.5 L606.7,1822.5 L608.8,1818.7 L611.2,1813.1 L612.7,1828.4 L614.5,1811.6 L617.3,1807.8 L619.4,1814.6 L622.0,1813.6 L624.1,1808.1 L625.3,1789.8 L627.7,1804.0 L629.4,1803.9 L630.6,1797.9 L632.3,1785.3 L634.2,1796.6 L636.9,1803.0 L638.0,1792.0 L640.0,1785.6 L641.8,1785.7 L642.9,1779.8 L645.2,1784.1 L646.5,1787.2 L648.2,1783.6 L651.1,1775.5 L653.1,1773.2 L655.9,1781.5 L657.1,1779.9 L658.7,1765.0 L660.6,1767.3 L662.4,1776.0 L665.2,1767.4 L667.1,1762.3 L668.4,1764.8 L670.2,1771.5 L671.3,1764.3 L673.3,1755.9 L675.4,1763.1 L677.4,1768.8 L679.2,1762.0 L681.4,1757.7 L683.3,1770.8 L684.9,1773.8 L687.0,1764.9 L689.7,1763.8 L691.6,1766.6 L693.2,1774.6 L696.1,1778.3 L697.7,1767.0 L699.1,1776.1 L700.7,1777.2 L702.9,1773.1 L705.4,1775.7 L707.7,1781.1 L709.1,1787.7 L711.0,1784.1 L712.6,1780.7 L714.1,1757.0 L715.9,1797.6 L717.3,1795.9 L718.7,1789.5 L721.4,1806.4 L723.2,1814.5 L724.9,1806.6 L726.7,1800.7 L729.1,1814.3 L731.2,1834.6 L733.0,1818.5 L734.8,1814.0 L736.2,1826.7 L738.4,1827.9 L740.2,1826.1 L743.2,1828.1 L746.0,1832.4 L747.8,1841.9 L749.2,1839.9 L751.4,1852.9 L752.6,1837.0 L754.4,1838.5 L756.5,1845.2 L758.5,1848.1 L760.1,1846.0 L761.6,1843.7 L763.3,1848.5 L765.8,1853.1 L767.8,1853.9 L769.0,1849.2 L770.5,1858.9 L772.6,1866.5 L774.3,1858.2 L777.1,1859.6 L779.0,1864.0 L781.3,1866.2 L782.9,1864.7 L785.2,1861.7 L787.2,1865.8 L789.5,1872.0 L790.9,1869.6 L793.2,1866.2 L795.7,1867.8 L797.8,1875.4 L800.1,1872.2 L801.3,1867.6 L802.8,1874.9 L805.2,1881.6 L807.6,1873.2 L809.1,1869.6 L810.9,1878.4 L812.1,1885.0 L814.5,1884.5 L816.7,1887.2 L819.1,1879.1 L820.8,1875.2 L822.7,1878.0 L824.1,1884.0 L825.8,1880.6 L828.4,1878.0 L829.9,1885.4 L832.3,1886.8 L833.9,1885.2 L835.3,1877.2 L836.7,1884.9 L838.9,1893.9 L840.7,1888.5 L842.7,1882.8 L844.7,1887.1 L846.6,1894.5 L848.4,1886.6 L851.2,1876.4 L853.6,1879.4 L855.0,1883.5 L856.7,1882.8 L858.8,1870.7 L860.8,1876.5 L862.9,1878.7 L864.1,1871.4 L865.8,1866.3 L868.3,1870.7 L869.6,1856.5 L870.9,1863.4 L872.9,1871.6 L874.5,1860.4 L877.1,1858.9 L879.6,1861.5 L881.2,1850.3 L883.6,1855.9 L884.9,1844.2 L886.3,1852.2 L887.8,1847.4 L889.8,1849.2 L892.2,1850.5 L894.3,1838.9 L895.9,1835.0 L897.2,1834.1 L898.9,1828.7 L900.1,1830.4 L901.7,1831.6 L904.0,1822.4 L906.0,1815.6 L907.8,1813.6 L909.0,1826.8 L910.4,1812.3 L912.6,1802.5 L914.5,1802.3 L916.4,1801.2 L917.8,1798.3 L919.3,1798.1 L921.1,1787.7 L923.4,1778.0 L925.1,1783.6 L926.5,1777.8 L928.2,1775.1 L929.4,1764.1 L931.0,1764.7 L933.5,1750.0 L935.6,1753.7 L937.1,1758.7 L938.6,1748.6 L941.2,1741.0 L943.1,1745.1 L944.7,1745.3 L946.1,1737.6 L947.9,1726.9 L949.1,1731.5 L951.0,1730.4 L953.4,1720.0 L955.6,1709.8 L957.6,1705.2 L959.1,1702.8 L960.8,1692.5 L962.3,1689.4 L964.1,1686.0 L965.9,1692.4 L968.2,1684.7 L970.0,1670.6 L971.8,1675.7 L974.7,1680.6 L977.3,1665.1 L978.7,1653.9 L980.7,1665.0 L982.0,1661.9 L983.9,1659.5 L986.6,1642.6 L987.9,1646.1 L990.0,1650.6 L991.9,1641.1 L994.6,1631.1 L996.5,1632.5 L998.6,1639.8 L1001.3,1635.5 L1003.2,1633.1 L1006.2,1640.9 L1008.0,1633.5 L1009.3,1646.9 L1011.6,1653.2 L1013.7,1652.9 L1016.3,1660.3 L1017.9,1677.0 L1019.9,1698.4 L1021.6,1704.8 L1022.7,1712.9 L1024.1,1728.9 L1025.7,1754.2 L1027.8,1762.1 L1030.1,1769.1 L1032.0,1791.7 L1033.2,1812.3 L1034.9,1816.8 L1036.8,1824.2 L1038.6,1831.1 L1040.6,1840.7 L1042.4,1853.4 L1045.1,1852.5 L1047.4,1873.5 L1049.0,1890.3 L1051.1,1874.4 L1052.7,1874.7 L1055.0,1894.4 L1057.2,1910.6 L1058.4,1899.6 L1060.1,1887.3 L1062.5,1908.9 L1064.3,1931.7 L1066.0,1920.6 L1067.5,1924.4 L1069.6,1934.7 L1071.4,1941.4 L1072.7,1939.1 L1074.6,1931.4 L1076.8,1938.7 L1078.5,1945.7 L1080.3,1942.9 L1081.4,1937.0 L1083.7,1942.8 L1086.1,1946.9 L1088.7,1945.0 L1090.8,1939.8 L1092.8,1942.3 L1094.9,1953.6 L1096.9,1945.5 L1098.3,1943.1 L1100.0,1946.4 L1102.5,1939.8 L1103.8,1948.8 L1105.6,1957.8 L1107.5,1949.5 L1109.0,1945.1 L1110.7,1943.5 L1111.9,1953.5 L1113.9,1950.9 L1115.9,1965.8 L1117.1,1945.4 L1119.4,1951.8 L1121.7,1949.2 L1123.9,1967.4 L1125.2,1954.2 L1127.0,1944.2 L1128.5,1944.4 L1130.9,1952.3 L1133.5,1951.3 L1135.6,1941.4 L1136.9,1951.6 L1139.0,1952.5 L1141.6,1954.2 L1143.6,1956.7 L1145.1,1945.2 L1146.9,1940.6 L1148.8,1951.1 L1151.1,1954.9 L1152.7,1947.9 L1154.6,1963.2 L1156.6,1948.2 L1158.6,1941.0 L1161.4,1952.2 L1163.1,1957.6 L1164.6,1954.2 L1166.7,1943.1 L1169.0,1948.6 L1170.6,1958.9 L1172.5,1952.1 L1174.6,1943.7 L1177.5,1950.6 L1179.3,1953.8 L1181.0,1948.7 L1183.4,1943.2 L1185.3,1948.1 L1187.4,1959.5 L1190.0,1947.7 L1192.1,1957.2 L1194.4,1949.5 L1196.5,1944.4 L1198.6,1950.4 L1199.8,1961.0 L1201.6,1955.2 L1203.4,1961.8 L1204.9,1958.0 L1207.8,1961.2 L1210.0,1949.8 L1211.4,1941.2 L1212.8,1950.0 L1215.0,1970.0 L1217.4,1949.8 L1218.9,1942.9 L1220.7,1951.1 L1223.0,1959.4 L1224.1,1954.0 L1225.8,1948.7 L1227.8,1959.2 L1228.9,1959.7 L1230.8,1951.5 L1232.1,1950.6 L1234.2,1954.8 L1235.5,1949.8 L1237.7,1952.1 L1239.0,1957.9 L1240.7,1954.0 L1243.6,1946.3 L1244.9,1955.9 L1247.1,1956.5 L1249.9,1957.5 L1251.7,1947.7 L1253.9,1954.1 L1255.9,1956.9 L1257.8,1954.9 L1258.9,1950.0 L1260.9,1956.4 L1262.2,1957.1 L1264.3,1954.5 L1266.6,1949.1 L1268.7,1959.9 L1270.2,1957.7 L1272.9,1958.7 L1274.7,1944.0 L1276.7,1960.8 L1278.0,1932.5 L1279.2,1960.3 L1281.4,1961.6 L1283.8,1958.2 L1285.4,1947.8 L1287.0,1949.4 L1289.3,1966.9 L1291.4,1957.3 L1293.2,1944.3 L1295.4,1958.2 L1297.9,1969.9 L1300.2,1954.3 L1301.8,1947.1 L1304.4,1953.2 L1305.9,1965.1 L1308.2,1955.8 L1310.1,1952.0 L1312.3,1955.5 L1314.3,1959.7 L1316.8,1956.1 L1319.1,1949.3 L1320.8,1953.6 L1323.7,1964.9 L1325.1,1956.2 L1327.4,1947.1 L1328.8,1961.7 L1330.4,1963.0 L1332.6,1954.0 L1334.7,1951.6 L1336.1,1962.2 L1337.6,1963.5 L1340.3,1955.8 L1342.2,1966.8 L1344.0,1955.8 L1345.4,1951.3 L1347.3,1961.1 L1348.9,1963.0 L1351.1,1953.8 L1353.0,1948.9 L1354.8,1956.3 L1356.2,1951.5 L1358.5,1955.4" stroke="#008000" stroke-width="2.7" fill="none" stroke-linejoin="round"/>
<path d="M123.6,1409.5V1421.5" stroke="#000" stroke-width="2.2"/>
</svg></body></html>
